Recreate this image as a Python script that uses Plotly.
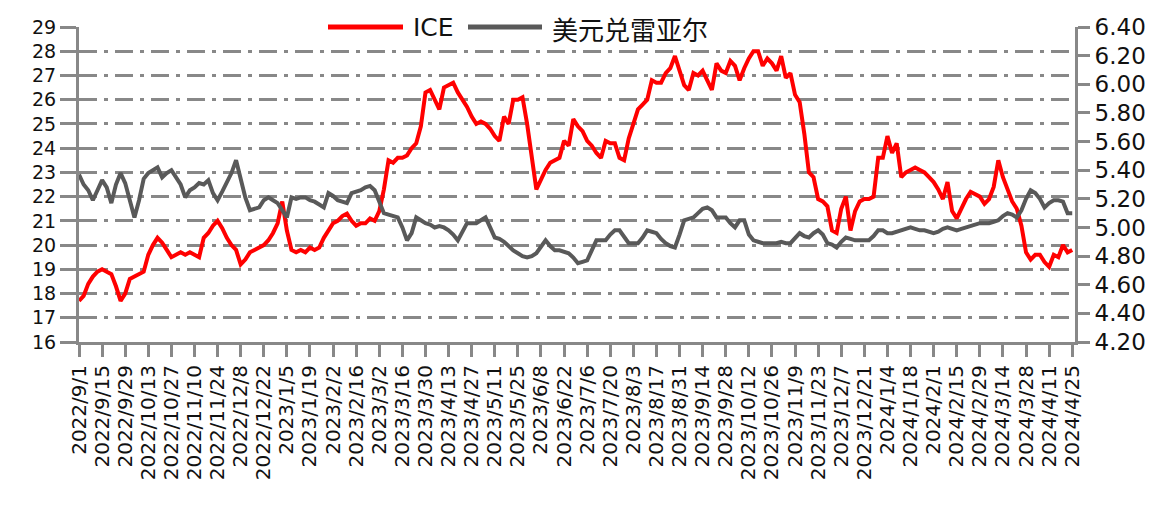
import pandas as pd
import plotly.graph_objects as go

# ---- data ----
dates = [d for d in pd.bdate_range("2022-09-01", periods=216, freq="2B")]
categories = [f"{d.year}/{d.month}/{d.day}" for d in dates]

ice = [
    17.7, 17.9, 18.4, 18.7, 18.9, 19.0, 18.9, 18.8, 18.3, 17.7,
    18.0, 18.6, 18.7, 18.8, 18.9, 19.6, 20.0, 20.3, 20.1, 19.8,
    19.5, 19.6, 19.7, 19.6, 19.7, 19.6, 19.5, 20.3, 20.5, 20.8,
    21.0, 20.7, 20.3, 20.0, 19.8, 19.2, 19.4, 19.7, 19.8, 19.9,
    20.0, 20.2, 20.5, 20.9, 21.8, 20.6, 19.8, 19.7, 19.8, 19.7,
    19.9, 19.8, 19.9, 20.3, 20.6, 20.9, 21.0, 21.2, 21.3, 21.0,
    20.8, 20.9, 20.9, 21.1, 21.0, 21.4, 22.3, 23.5, 23.4, 23.6,
    23.6, 23.7, 24.0, 24.2, 24.9, 26.3, 26.4, 26.0, 25.6, 26.5,
    26.6, 26.7, 26.3, 26.0, 25.7, 25.3, 25.0, 25.1, 25.0, 24.8,
    24.5, 24.3, 25.3, 25.0, 26.0, 26.0, 26.1, 25.0, 23.6, 22.3,
    22.7, 23.1, 23.4, 23.5, 23.6, 24.3, 24.1, 25.2, 24.9, 24.7,
    24.3, 24.1, 23.8, 23.6, 24.3, 24.2, 24.2, 23.6, 23.5, 24.4,
    25.0, 25.6, 25.8, 26.0, 26.8, 26.7, 26.7, 27.1, 27.3, 27.8,
    27.2, 26.6, 26.4, 27.1, 27.0, 27.2, 26.8, 26.4, 27.5, 27.2,
    27.1, 27.6, 27.4, 26.8, 27.3, 27.7, 28.0, 28.0, 27.4, 27.7,
    27.5, 27.2, 27.8, 26.9, 27.1, 26.2, 25.9, 24.6, 23.0, 22.8,
    21.9, 21.8, 21.6, 20.6, 20.5, 21.5, 22.0, 20.6, 21.4, 21.8,
    21.9, 21.9, 22.0, 23.6, 23.6, 24.5, 23.8, 24.2, 22.8, 23.0,
    23.1, 23.2, 23.1, 23.0, 22.8, 22.6, 22.3, 21.9, 22.6, 21.4,
    21.1, 21.5, 21.9, 22.2, 22.1, 22.0, 21.7, 21.9, 22.4, 23.5,
    22.8, 22.3, 21.8, 21.5, 20.8, 19.7, 19.4, 19.6, 19.6, 19.3,
    19.1, 19.6, 19.5, 20.0, 19.7, 19.8,
]

usd_brl = [
    5.37, 5.30, 5.26, 5.19, 5.26, 5.33, 5.28, 5.17, 5.30, 5.38,
    5.31, 5.20, 5.07, 5.19, 5.34, 5.38, 5.40, 5.42, 5.35, 5.38,
    5.40, 5.35, 5.30, 5.21, 5.26, 5.28, 5.31, 5.30, 5.33, 5.24,
    5.19, 5.25, 5.31, 5.38, 5.47, 5.35, 5.21, 5.12, 5.13, 5.14,
    5.19, 5.21, 5.19, 5.17, 5.12, 5.07, 5.21, 5.20, 5.21, 5.21,
    5.19, 5.18, 5.16, 5.14, 5.24, 5.22, 5.19, 5.18, 5.17, 5.24,
    5.25, 5.26, 5.28, 5.29, 5.26, 5.17, 5.10, 5.09, 5.08, 5.07,
    5.00, 4.91, 4.96, 5.07, 5.05, 5.03, 5.02, 5.00, 5.01, 5.00,
    4.98, 4.95, 4.91, 4.97, 5.03, 5.03, 5.03, 5.05, 5.07, 5.00,
    4.93, 4.92, 4.90, 4.87, 4.84, 4.82, 4.80, 4.79, 4.80, 4.82,
    4.87, 4.91, 4.87, 4.84, 4.84, 4.83, 4.82, 4.79, 4.75, 4.76,
    4.77, 4.84, 4.91, 4.91, 4.91, 4.95, 4.98, 4.98, 4.93, 4.89,
    4.89, 4.89, 4.93, 4.98, 4.97, 4.96, 4.92, 4.89, 4.87, 4.86,
    4.95, 5.05, 5.06, 5.07, 5.10, 5.13, 5.14, 5.12, 5.07, 5.07,
    5.07, 5.03, 5.00, 5.05, 5.05, 4.95, 4.91, 4.90, 4.89, 4.89,
    4.89, 4.89, 4.90, 4.89, 4.89, 4.93, 4.96, 4.94, 4.93, 4.96,
    4.98, 4.95, 4.89, 4.88, 4.86, 4.90, 4.93, 4.92, 4.91, 4.91,
    4.91, 4.91, 4.94, 4.98, 4.98, 4.96, 4.96, 4.97, 4.98, 4.99,
    5.00, 4.99, 4.98, 4.98, 4.97, 4.96, 4.97, 4.99, 5.00, 4.99,
    4.98, 4.99, 5.00, 5.01, 5.02, 5.03, 5.03, 5.03, 5.04, 5.05,
    5.08, 5.10, 5.09, 5.07, 5.12, 5.20, 5.26, 5.24, 5.20, 5.14,
    5.17, 5.19, 5.19, 5.18, 5.10, 5.10,
]

tick_step = 5
tick_vals = categories[::tick_step]
tick_text = categories[::tick_step]

left_ticks = list(range(16, 30))
right_ticks = [4.2, 4.4, 4.6, 4.8, 5.0, 5.2, 5.4, 5.6, 5.8, 6.0, 6.2, 6.4]

series_names = ["ICE", "美元兑雷亚尔"]
series_colors = ["#ff0000", "#595959"]

# ---- figure ----
# page pixel geometry of the plot area (page has an 8px body margin)
OFF = 8
PAGE_W, PAGE_H = 1172, 514
L, R, T, B = 79, 1075, 27, 342
W, H = PAGE_W - OFF, PAGE_H - OFF

fig = go.Figure()
fig.add_trace(go.Scatter(x=categories, y=usd_brl, name=series_names[1], mode="lines",
                         line=dict(color=series_colors[1], width=4), yaxis="y2"))
fig.add_trace(go.Scatter(x=categories, y=ice, name=series_names[0], mode="lines",
                         line=dict(color=series_colors[0], width=4), yaxis="y"))

axis_gray = "#888888"

fig.update_layout(
    width=W, height=H,
    margin=dict(l=L - OFF, r=PAGE_W - R, t=T - OFF, b=PAGE_H - B, pad=0),
    paper_bgcolor="white", plot_bgcolor="white",
    showlegend=False,
    xaxis=dict(
        type="category", range=[0, 215.6], automargin=False,
        tickmode="array", tickvals=tick_vals, ticktext=tick_text,
        tickangle=-90, tickfont=dict(family="DejaVu Sans", size=20, color="#111111"),
        showgrid=False, showline=True, linecolor=axis_gray, linewidth=3,
        ticks="outside", ticklen=12, tickwidth=3, tickcolor=axis_gray,
    ),
    yaxis=dict(
        range=[16, 29], tickvals=left_ticks, automargin=False,
        tickfont=dict(family="DejaVu Sans", size=19, color="#111111"),
        showline=True, linecolor=axis_gray, linewidth=3,
        ticks="outside", ticklen=16, tickwidth=3, tickcolor=axis_gray,
        showgrid=True, gridcolor=axis_gray, gridwidth=2.5,
        griddash="18px,7px,4px,7px", zeroline=False,
    ),
    yaxis2=dict(
        range=[4.2, 6.4], tickvals=right_ticks, tickformat=".2f", automargin=False,
        overlaying="y", side="right",
        tickfont=dict(family="DejaVu Sans", size=23, color="#111111"),
        showline=True, linecolor=axis_gray, linewidth=3,
        ticks="outside", ticklen=12, tickwidth=3, tickcolor=axis_gray,
        showgrid=False, zeroline=False,
    ),
)

def px_x(px):
    return (px - L) / (R - L)

def px_y(py):
    return (B - py) / (B - T)

# legend drawn manually (wide Excel-style line samples)
shapes = [
    dict(type="rect", xref="paper", yref="paper", x0=px_x(318), x1=px_x(776),
         y0=px_y(42), y1=px_y(11), fillcolor="white", line=dict(width=0), layer="above"),
    dict(type="line", xref="paper", yref="paper", x0=px_x(328), x1=px_x(403),
         y0=px_y(27), y1=px_y(27), line=dict(color=series_colors[0], width=5), layer="above"),
    dict(type="line", xref="paper", yref="paper", x0=px_x(468), x1=px_x(542),
         y0=px_y(27), y1=px_y(27), line=dict(color=series_colors[1], width=5), layer="above"),
]
fig.update_layout(shapes=shapes)
fig.add_annotation(xref="paper", yref="paper", x=px_x(411), y=px_y(28), xanchor="left",
                   yanchor="middle", text=series_names[0], showarrow=False,
                   font=dict(family="DejaVu Sans", size=25, color="#111111"))
fig.add_annotation(xref="paper", yref="paper", x=px_x(550), y=px_y(29), xanchor="left",
                   yanchor="middle", text=series_names[1], showarrow=False,
                   font=dict(family="Noto Sans CJK SC", size=26, color="#111111"))

fig.write_html("out.html")
